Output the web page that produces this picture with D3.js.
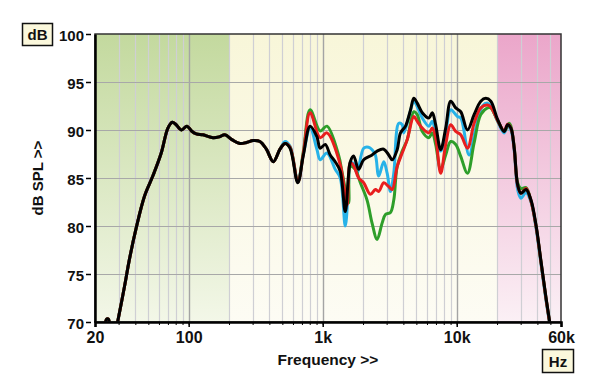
<!DOCTYPE html>
<html><head><meta charset="utf-8">
<script src="https://cdn.jsdelivr.net/npm/d3@7"></script>
<style>
html,body{margin:0;padding:0;background:#fff;}
svg{display:block;}
text{font-family:"Liberation Sans",Arial,sans-serif;font-weight:bold;fill:#111;}
</style></head>
<body>
<svg id="chart" width="600" height="389"></svg>
<script>
// ---- data ----
const dbTicks = [70, 75, 80, 85, 90, 95, 100];
const freqLabelValues = [20, 100, 1000, 10000, 60000];
const freqLabels = ["20", "100", "1k", "10k", "60k"];
const freqGrid = [30,40,50,60,70,80,90,100,200,300,400,500,600,700,800,900,1000,
  2000,3000,4000,5000,6000,7000,8000,9000,10000,20000,30000,40000,50000];
const freqMajor = [100, 1000, 10000];
const bands = [
  {name:"green", from:20, to:200},
  {name:"yellow", from:200, to:20000},
  {name:"pink", from:20000, to:60000}
];

const commonLow = [[23.5,69.0],[24.4,70.3],[25.2,70.3],[26.0,69.2],[27.5,67.8],[29.5,70.0],[33.2,73.7],[36.1,76.5],
  [40.6,79.8],[46.8,83.1],[54,85.2],[62.4,87.6],[70,90.2],[75.5,90.8],[80,90.6],[88.2,90.0],[97.1,90.4],
  [105,89.9],[114,89.6],[128,89.5],[152,89.2],[170,89.3],[186,89.5],[210,89.0],[241,88.6],[270,88.7],
  [303,88.9],[340,88.8],[380,88.0],[428,86.7],[480,88.0]];

const seriesCyan = [[524,88.8],[571,88.3],[652,84.7],[718,87.5],[806,90.2],[905,88.0],[958,86.9],[1075,87.6],
  [1240,85.9],[1352,85.0],[1474,80.0],[1561,84.5],[1607,86.6],[1701,86.5],[1804,85.5],[2021,88.1],[2200,88.2],
  [2336,87.95],[2474,87.4],[2618,85.2],[2854,86.7],[3026,85.5],[3203,83.6],[3391,85.5],[3697,90.7],[3920,90.55],
  [4029,89.7],[4393,91.4],[4787,93.0],[4930,92.8],[5536,91.25],[6202,90.4],[6577,90.9],[6963,89.7],[7591,87.8],
  [8274,89.7],[9018,92.1],[10120,91.4],[10715,91.25],[12365,87.4],[13880,90.2],[15575,92.5],[16980,92.8],
  [17970,92.5],[20180,90.9],[22610,89.7],[23980,90.4],[25380,90.0],[26870,87.8],[28490,83.8],[30160,82.9],
  [32880,83.5],[35840,82.5],[39060,79.8],[42580,76.0],[46420,72.2],[49140,70.0],[50500,69]];

const seriesGreen = [[524,88.6],[571,88.2],[652,84.6],[718,87.8],[806,92.1],[958,89.9],[1075,90.4],[1313,87.4],
  [1400,85.5],[1561,82.4],[1607,86.2],[1752,85.9],[1910,84.5],[2143,82.7],[2336,80.3],[2547,78.6],[2776,80.3],
  [2939,81.2],[3203,81.4],[3391,82.7],[3596,86.2],[3920,87.8],[4273,89.0],[4787,91.9],[5076,91.6],[5536,89.85],
  [6202,89.2],[6577,89.7],[6963,88.5],[7591,85.9],[8274,87.4],[9018,88.8],[9829,88.5],[10715,87.25],[12030,85.5],
  [13480,88.65],[15125,91.6],[16980,92.3],[17970,92.3],[20180,91.0],[22610,89.9],[24650,90.7],[25380,90.4],
  [26870,88.2],[28490,84.5],[30160,83.9],[32880,84.0],[35840,82.6],[39060,80.0],[42580,76.2],[46420,72.4],
  [49140,70.1],[50500,69]];

const seriesRed = [[524,88.6],[571,88.2],[652,84.6],[718,87.6],[806,91.8],[958,89.2],[1075,89.7],[1352,86.4],
  [1518,82.2],[1607,86.6],[1701,86.3],[1854,85.0],[2021,84.5],[2269,83.3],[2474,83.8],[2618,83.6],[2854,84.5],
  [3111,84.1],[3299,83.8],[3596,86.2],[3920,87.6],[4273,89.0],[4787,91.4],[5076,90.9],[5536,90.2],[6202,89.7],
  [6577,90.2],[6963,89.2],[7591,85.5],[8274,88.5],[9018,90.55],[9829,89.85],[10715,89.5],[12030,88.1],
  [13480,90.7],[15125,92.3],[16980,92.6],[17970,92.4],[20180,91.0],[22610,89.9],[23980,90.6],[25380,90.2],
  [26870,88.0],[28490,84.2],[30160,83.4],[32880,83.9],[35840,82.6],[39060,80.0],[42580,76.2],[46420,72.4],
  [49140,70.1],[50500,69]];

const seriesBlack = [[524,88.6],[571,88.1],[652,84.5],[718,87.4],[806,90.4],[905,89.3],[958,88.1],[1044,88.5],
  [1138,87.4],[1240,86.7],[1352,85.7],[1474,81.5],[1607,86.7],[1701,87.3],[1854,85.9],[2021,86.9],[2336,87.4],
  [2547,87.8],[2854,88.0],[3111,87.4],[3299,86.9],[3596,87.95],[3806,89.7],[4150,90.4],[4523,92.1],[4787,93.3],
  [5076,92.8],[5536,91.8],[6202,91.25],[6577,91.8],[6963,90.55],[7591,87.95],[8274,90.2],[9018,93.0],[9829,92.3],
  [10715,91.9],[12030,90.0],[13480,91.6],[15125,93.0],[16490,93.3],[17970,93.0],[20180,91.1],[22610,89.85],
  [23980,90.55],[25380,90.2],[26870,88.1],[28490,84.3],[30160,83.4],[32880,83.8],[35840,82.7],[39060,80.1],
  [42580,76.3],[46420,72.5],[49140,70.2],[50500,69]];

const series = [
  {name:"cyan", color:"#27b2e8", data: commonLow.concat(seriesCyan)},
  {name:"green", color:"#2e9e2a", data: commonLow.concat(seriesGreen)},
  {name:"red", color:"#e81e1e", data: commonLow.concat(seriesRed)},
  {name:"black", color:"#000000", data: commonLow.concat(seriesBlack)}
];

// ---- layout ----
const L = 95, R = 561, T = 34, B = 322;
const svg = d3.select("#chart");
const x = d3.scaleLog().domain([20, 60000]).range([L, R]);
const y = d3.scaleLinear().domain([70, 100]).range([B, T]);

const defs = svg.append("defs");
const grads = {
  green: ["#c3d99e", "#f3f7e8"],
  yellow: ["#f8f6d9", "#fdfcf4"],
  pink: ["#eba6ca", "#fbf0f5"]
};
Object.entries(grads).forEach(([k, c]) => {
  const g = defs.append("linearGradient").attr("id", "g-" + k)
    .attr("x1", 0).attr("y1", 0).attr("x2", 0).attr("y2", 1);
  g.append("stop").attr("offset", "0%").attr("stop-color", c[0]);
  g.append("stop").attr("offset", "100%").attr("stop-color", c[1]);
});
defs.append("clipPath").attr("id", "plotclip").append("rect")
  .attr("x", L).attr("y", T).attr("width", R - L).attr("height", B - T);

// background bands
svg.append("g").selectAll("rect").data(bands).join("rect")
  .attr("x", d => x(d.from)).attr("width", d => x(d.to) - x(d.from))
  .attr("y", T).attr("height", B - T)
  .attr("fill", d => `url(#g-${d.name})`);

// grid
const grid = svg.append("g");
grid.selectAll("line.v").data(freqGrid).join("line")
  .attr("x1", d => Math.round(x(d)) + 0.5).attr("x2", d => Math.round(x(d)) + 0.5)
  .attr("y1", T).attr("y2", B)
  .attr("stroke", d => freqMajor.includes(d) ? "#a4a4a4" : "#cfcfd4")
  .attr("stroke-width", d => freqMajor.includes(d) ? 1.4 : 1.2);
grid.selectAll("line.h").data(dbTicks.slice(1, -1)).join("line")
  .attr("x1", L).attr("x2", R)
  .attr("y1", d => Math.round(y(d)) + 0.5).attr("y2", d => Math.round(y(d)) + 0.5)
  .attr("stroke", "#a8a8a8").attr("stroke-width", 1.2);

// curves
const line = d3.line().x(d => x(d[0])).y(d => y(d[1])).curve(d3.curveCatmullRom.alpha(0.5));
svg.append("g").attr("clip-path", "url(#plotclip)")
  .selectAll("path").data(series).join("path")
  .attr("d", d => line(d.data))
  .attr("fill", "none").attr("stroke", d => d.color)
  .attr("stroke-width", 3).attr("stroke-linejoin", "round").attr("stroke-linecap", "round");

// frame
svg.append("rect").attr("x", L).attr("y", T).attr("width", R - L).attr("height", B - T)
  .attr("fill", "none").attr("stroke", "#333").attr("stroke-width", 1.5);

// y axis
const yAxis = d3.axisLeft(y).tickValues(dbTicks).tickSize(0).tickPadding(11).tickFormat(d3.format("d"));
const ya = svg.append("g").attr("transform", `translate(${L},0)`).call(yAxis);
ya.select(".domain").attr("stroke", "#000").attr("stroke-width", 2.5);
ya.selectAll(".tick").append("line").attr("x1", -9).attr("x2", -4)
  .attr("stroke", "#000").attr("stroke-width", 1.5);
ya.selectAll(".tick text").attr("font-size", 15).attr("font-family", "Liberation Sans, Arial, sans-serif")
  .attr("font-weight", "bold").attr("fill", "#111").attr("dy", "0.4em");

// x axis
const xAxisMinor = d3.axisBottom(x).tickValues(freqGrid).tickSize(3).tickFormat("");
const xam = svg.append("g").attr("transform", `translate(0,${B})`).call(xAxisMinor);
xam.select(".domain").remove();
xam.selectAll(".tick line").attr("stroke", "#000").attr("stroke-width", 1);
const xAxis = d3.axisBottom(x).tickValues(freqLabelValues).tickSize(5).tickPadding(5)
  .tickFormat((d, i) => freqLabels[i]);
const xa = svg.append("g").attr("transform", `translate(0,${B})`).call(xAxis);
xa.select(".domain").attr("stroke", "#000").attr("stroke-width", 2.5);
xa.selectAll(".tick line").attr("stroke", "#000").attr("stroke-width", 1.5);
xa.selectAll(".tick text").attr("font-size", 16).attr("font-family", "Liberation Sans, Arial, sans-serif")
  .attr("font-weight", "bold").attr("fill", "#111");

// axis titles
svg.append("text").attr("x", 328).attr("y", 365).attr("text-anchor", "middle")
  .attr("font-size", 15.5).text("Frequency >>");
svg.append("text").attr("transform", "translate(43,178) rotate(-90)").attr("text-anchor", "middle")
  .attr("font-size", 15).text("dB SPL >>");

// unit boxes
function unitBox(bx, by, w, h, label) {
  svg.append("rect").attr("x", bx).attr("y", by).attr("width", w).attr("height", h)
    .attr("fill", "#fbf8dc").attr("stroke", "#111").attr("stroke-width", 1.5);
  svg.append("text").attr("x", bx + w / 2).attr("y", by + h / 2 + 5.5).attr("text-anchor", "middle")
    .attr("font-size", 15).text(label);
}
unitBox(22.5, 23.5, 30, 22, "dB");
unitBox(542.5, 349.5, 31, 23, "Hz");
</script>
</body></html>
